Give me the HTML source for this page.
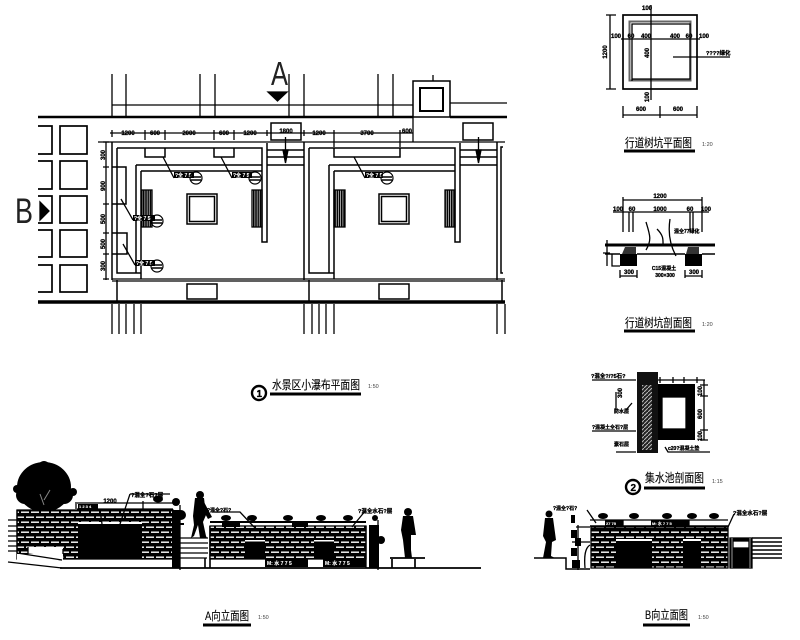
<!DOCTYPE html>
<html><head><meta charset="utf-8"><style>
html,body{margin:0;padding:0;background:#fff;width:800px;height:640px;overflow:hidden}
svg{display:block}
text{font-family:"Liberation Sans","Noto Sans CJK SC",sans-serif;fill:#000;stroke:#000;stroke-width:.3}
.d{font-size:6px;font-weight:bold;text-anchor:middle}
.l{font-size:6px;font-weight:bold}
.w{font-size:5px;font-weight:bold;fill:#fff;stroke:#fff;stroke-width:.1}
.s{font-size:5.5px;fill:#444;stroke:none}
.t{font-size:12px;stroke-width:.12}
</style></head><body>
<svg width="800" height="640" viewBox="0 0 800 640" xmlns="http://www.w3.org/2000/svg" fill="none" stroke="#000" stroke-width="1.3">
<defs>
<pattern id="brick" width="20" height="10" patternUnits="userSpaceOnUse">
<rect width="20" height="10" fill="#000" stroke="none"/>
<rect x="1" y="1.500" width="8" height="1.400" fill="#fff" stroke="none"/><rect x="11" y="1.500" width="8" height="1.400" fill="#fff" stroke="none"/>
<rect x="-4" y="6.500" width="8" height="1.400" fill="#fff" stroke="none"/><rect x="6" y="6.500" width="8" height="1.400" fill="#fff" stroke="none"/><rect x="16" y="6.500" width="8" height="1.400" fill="#fff" stroke="none"/>
</pattern>
<pattern id="vh" width="2.200" height="4" patternUnits="userSpaceOnUse"><rect width="1.600" height="4" fill="#000" stroke="none"/></pattern>
<pattern id="diag" width="4" height="4" patternUnits="userSpaceOnUse"><rect width="4" height="4" fill="#222" stroke="none"/><path d="M0 4L4 0" stroke="#bbb" stroke-width="1"/></pattern>
</defs>

<!-- PLAN -->
<g>
<path d="M112 74V116M126 74V116M200 74V116M215 74V116M289 74V116M304 74V116M378 74V116M393 74V116"/>
<path d="M112 105H413"/>
<path d="M38 117H413M450 117H507" stroke-width="2.600"/>
<path d="M38 302H505" stroke-width="3.600"/>
<path d="M112 304V334M119 304V334M126 304V334M134 304V334M141 304V334M304 304V334M312 304V334M319 304V334M326 304V334M334 304V334M497 304V334M505 304V334"/>
<path d="M98 142H505M112 279H505M112 281H505"/>
<!-- left squares -->
<g stroke-width="1.700">
<rect x="60" y="126" width="27" height="28"/><rect x="60" y="161" width="27" height="28"/><rect x="60" y="196" width="27" height="27"/><rect x="60" y="230" width="27" height="27"/><rect x="60" y="265" width="27" height="27"/>
<path d="M38 126H52V154H38M38 161H52V189H38M38 196H52V223H38M38 230H52V257H38M38 265H52V292H38"/>
</g>
<text x="15" y="223" style="font-size:35px;fill:#222;stroke:none" textLength="18" lengthAdjust="spacingAndGlyphs">B</text>
<path d="M40 202L49 211L40 220Z" fill="#000"/>
<text x="271" y="85" style="font-size:33px;fill:#222;stroke:none" textLength="17" lengthAdjust="spacingAndGlyphs">A</text>
<path d="M268 92H287L277.500 101Z" fill="#000"/>
<!-- dims top -->
<path d="M110 133H413M112 130V137M145 130V140M165 130V140M214 130V140M234 130V140M267 130V136M304 130V136M334 130V147M400 130V147" />
<g>
<text class="d" x="128" y="135">1200</text><text class="d" x="155" y="135">600</text><text class="d" x="189" y="135">2000</text><text class="d" x="224" y="135">600</text><text class="d" x="250" y="135">1200</text><text class="d" x="286" y="133">1800</text><text class="d" x="319" y="135">1200</text><text class="d" x="367" y="135">3700</text><text class="d" x="407" y="133">600</text>
</g>
<!-- dims left -->
<path d="M106 142V280M103 167H109M103 204H109M103 233H109M103 254H109M103 279H109M103 142H109"/>
<g>
<text class="d" transform="translate(105,155) rotate(-90)">300</text>
<text class="d" transform="translate(105,186) rotate(-90)">900</text>
<text class="d" transform="translate(105,219) rotate(-90)">500</text>
<text class="d" transform="translate(105,244) rotate(-90)">500</text>
<text class="d" transform="translate(105,266) rotate(-90)">300</text>
</g>
<!-- rooms -->
<g stroke-width="1.500">
<path d="M112 142V280M117 148V273H141M117 148H262V242H267V143"/>
<path d="M136 165H262M141 171H262M136 165V273M141 171V279"/>
<path d="M145 148V157H165V148M214 148V157H234V148"/>
<path d="M112 167H126V204H112M112 233H127V254H112"/>
<path d="M117 280V303"/>
<path d="M267 150H304M267 157H304M267 165H304"/>
<path d="M304 142V280M309 148V273H334M309 148H455V242H460V143"/>
<path d="M329 165H455M334 171H455M329 165V273M334 171V279"/>
<path d="M334 148V157H400V148"/>
<path d="M309 280V303M502 280V303"/>
<path d="M460 150H497M460 157H497M460 165H497"/>
<path d="M497 142V280M503 147H501V273H503"/>
</g>
<rect x="142" y="190" width="10" height="37" fill="url(#vh)"/>
<rect x="252" y="190" width="10" height="37" fill="url(#vh)"/>
<rect x="334" y="190" width="11" height="37" fill="url(#vh)"/>
<rect x="445" y="190" width="10" height="37" fill="url(#vh)"/>
<g stroke-width="1.500">
<rect x="187" y="194" width="30" height="30"/><rect x="189.500" y="196.500" width="25" height="25"/>
<rect x="379" y="194" width="30" height="30"/><rect x="381.500" y="196.500" width="25" height="25"/>
<rect x="187" y="284" width="30" height="15"/><rect x="379" y="284" width="30" height="15"/>
<rect x="271" y="123" width="30" height="17"/><rect x="463" y="123" width="30" height="17"/>
<rect x="413" y="81" width="37" height="36"/>
<rect x="420" y="88" width="23" height="23" stroke-width="2"/>
</g>
<path d="M433 75V81M450 103H507M413 117V142"/>
<path d="M285.500 137V160M478.500 137V160"/>
<path d="M283 150H288L285.500 163ZM476 150H481L478.500 163Z" fill="#000"/>
<!-- leaders -->
<path d="M163 157L174 178M221 157L232 178M121 199L133 220M123 244L135 265M354 157L365 178"/>
<g stroke="none">
<rect x="174" y="172" width="20" height="6" fill="#000"/><rect x="232" y="172" width="20" height="6" fill="#000"/><rect x="133" y="215" width="22" height="6" fill="#000"/><rect x="135" y="260" width="20" height="6" fill="#000"/><rect x="365" y="172" width="18" height="6" fill="#000"/>
<text class="w" x="175" y="177">?&#20840; 7 5</text><text class="w" x="233" y="177">?&#20840; 7 5</text><text class="w" x="134" y="220">?&#20840; 7 5</text><text class="w" x="136" y="265">?&#20840; 7 5</text><text class="w" x="366" y="177">?&#20840; 7 5</text>
</g>
<g stroke-width="1.200"><circle cx="196" cy="178" r="6"/><circle cx="255" cy="178" r="6"/><circle cx="157" cy="221" r="6"/><circle cx="157" cy="266" r="6"/><circle cx="387" cy="178" r="6"/></g>
<path d="M191 177H201M191 180H201M250 177H260M250 180H260M152 220H162M152 223H162M152 265H162M152 268H162M382 177H392M382 180H392" stroke-width="1.400"/>
<!-- title -->
<text class="t" x="272" y="389" textLength="88" lengthAdjust="spacingAndGlyphs">水景区小瀑布平面图</text>
<path d="M270 394H361" stroke-width="3"/>
<circle cx="259" cy="393" r="7" stroke-width="2.400"/><text x="256.500" y="397" style="font-size:10px;font-weight:bold">1</text>
<text class="s" x="368" y="388">1:50</text>
</g>

<!-- TREE PIT PLAN -->
<g>
<rect x="623" y="15" width="74" height="74" stroke-width="1.700"/>
<rect x="629.500" y="21.500" width="61" height="59" stroke="#666" stroke-width="2"/>
<path d="M632 81V24H690V79H632"/>
<path d="M651 5V100"/>
<path d="M621 39H700M673 57H730"/>
<path d="M610 15V89M606 15H616M606 89H616M623 115H697M623 106V118M660 106V118M697 106V118"/>
<g>
<text class="d" x="616" y="38">100</text><text class="d" x="631" y="38">60</text><text class="d" x="646" y="38">400</text><text class="d" x="675" y="38">400</text><text class="d" x="689" y="38">60</text><text class="d" x="704" y="38">100</text>
<text class="d" x="641" y="111">600</text><text class="d" x="678" y="111">600</text>
<text class="d" transform="translate(607,52) rotate(-90)">1200</text>
<text class="d" x="647" y="10">100</text><text class="d" transform="translate(649,53) rotate(-90)">400</text><text class="d" transform="translate(649,97) rotate(-90)">100</text>
<text class="l" x="706" y="55" style="font-size:5.500px">????绿化</text>
<text class="t" x="625" y="147" textLength="67" lengthAdjust="spacingAndGlyphs">行道树坑平面图</text>
<text class="s" x="702" y="146">1:20</text>
</g>
<path d="M624 151H695" stroke-width="3"/>
</g>

<!-- TREE PIT SECTION -->
<g>
<path d="M623 200H702M623 197V232M629 212V232M633 212V232M690 212V232M693 212V232M702 197V232M613 212H709"/>
<path d="M605 245H715" stroke-width="3"/>
<path d="M605 254H620M637 254H685M702 254H715" stroke-width="1.500"/>
<rect x="620" y="254" width="17" height="12" fill="#000" stroke="none"/>
<rect x="685" y="254" width="17" height="12" fill="#000" stroke="none"/>
<path d="M625 247H636V254H622ZM688 247H699V254H686Z" fill="#333" stroke="none"/>
<path d="M612 254V266H620" />
<path d="M646 222C650 235 652 240 646 250M657 229C664 236 663 240 663 246M670 219C668 232 670 245 676 256"/>
<path d="M620 276H637M620 270V278M637 270V278M685 276H702M685 270V278M702 270V278"/>
<path d="M607 240V266M603 253H610"/>
<g>
<text class="d" x="660" y="198">1200</text><text class="d" x="618" y="211">100</text><text class="d" x="632" y="211">60</text><text class="d" x="660" y="211">1000</text><text class="d" x="690" y="211">60</text><text class="d" x="706" y="211">100</text>
<text class="l" x="674" y="233" style="font-size:5px">混全77绿化</text>
<text class="d" x="629" y="274">300</text><text class="d" x="694" y="274">300</text>
<text class="d" x="664" y="270" style="font-size:5px">C15混凝土</text><text class="d" x="665" y="277" style="font-size:5px">300×300</text>
<text class="t" x="625" y="327" textLength="67" lengthAdjust="spacingAndGlyphs">行道树坑剖面图</text>
<text class="s" x="702" y="326">1:20</text>
</g>
<path d="M624 331H695" stroke-width="3"/>
</g>

<!-- SUMP -->
<g>
<rect x="637" y="372" width="21" height="81" fill="#111" stroke="none"/>
<rect x="642" y="385" width="10" height="65" fill="url(#diag)" stroke="none"/>
<rect x="658" y="384" width="37" height="56" fill="#000" stroke="none"/>
<rect x="662" y="397" width="24" height="32" fill="#fff" stroke="#000"/>
<path d="M658 380H705M704 380V440M700 385H708M700 396H708M700 430H708M700 440H708M660 377V383M673 377V383M684 377V383M697 377V383"/>
<path d="M592 380H636M592 431H636M616 392V410M626 410L632 403M616 452H636M665 447L668 452H710"/>
<g>
<text class="l" x="591" y="378" style="font-size:5.500px">?混全?/?5石?</text>
<text class="l" x="592" y="429" style="font-size:5px">?混凝土全石?层</text>
<text class="l" x="614" y="413" style="font-size:5px">防水层</text>
<text class="l" x="614" y="446" style="font-size:5px">素石层</text>
<text class="l" x="668" y="450" style="font-size:5px">c20?混凝土垫</text>
<text class="d" transform="translate(622,393) rotate(-90)">300</text>
<text class="d" transform="translate(702,391) rotate(-90)">100</text><text class="d" transform="translate(702,414) rotate(-90)">600</text><text class="d" transform="translate(702,436) rotate(-90)">100</text>
<text class="t" x="645" y="482" textLength="59" lengthAdjust="spacingAndGlyphs">集水池剖面图</text>
<text class="s" x="712" y="483">1:15</text>
</g>
<path d="M644 488H705" stroke-width="3"/>
<circle cx="633" cy="487" r="7" stroke-width="2.400"/><text x="630.500" y="491" style="font-size:10px;font-weight:bold">2</text>
</g>

<!-- A ELEVATION -->
<g>
<path d="M60 568H481" stroke-width="1.700"/>
<path d="M8 562L62 568M17 553L62 560"/>
<path d="M8 520H17M8 526H17M8 531H17M8 536H17M8 541H17M8 546H17M8 551H17"/>
<!-- tree -->
<g fill="#000" stroke="none">
<ellipse cx="44" cy="487" rx="27" ry="25"/>
<circle cx="25" cy="495" r="9"/><circle cx="64" cy="495" r="9"/><circle cx="44" cy="467" r="6"/><circle cx="30" cy="475" r="6"/><circle cx="60" cy="476" r="6"/><circle cx="17" cy="489" r="4"/><circle cx="73" cy="492" r="4"/>
</g>
<path d="M44 510V548" stroke-width="1.700"/>
<path d="M44 505L40 494M44 500L50 490" stroke="#888" stroke-width="1"/>
<!-- wall A1 -->
<rect x="17" y="510" width="156" height="49" fill="url(#brick)"/>
<rect x="78" y="523" width="64" height="36" fill="#000" stroke="none"/>
<rect x="78" y="522" width="64" height="2" fill="#fff" stroke="none"/>
<rect x="28" y="547" width="35" height="11" fill="#fff" stroke="none"/>
<path d="M28 547V554L63 558V549"/>
<rect x="17" y="554" width="46" height="6" fill="#fff" stroke="none"/>
<path d="M17 553L62 560M17 510V553"/>
<path d="M77 503H173M77 509H173M76 502V509M143 501V509"/>
<path d="M130 494L120 524M130 494H170M100 510L102 524"/>
<g fill="#000">
<ellipse cx="158" cy="499" rx="5" ry="3.500" stroke="none"/>
<text class="d" x="110" y="503">1200</text>
<text class="l" x="131" y="497" style="font-size:5.500px">?混全?石?层</text>
<rect x="78" y="504" width="20" height="5" stroke="none"/>
<text class="w" x="79" y="508" style="font-size:4px">1 2 3 4</text>
</g>
<!-- plants column -->
<g fill="#000" stroke="none">
<rect x="172" y="510" width="8" height="58"/>
<circle cx="176" cy="502" r="4"/><circle cx="181" cy="515" r="5"/><rect x="174" y="523" width="10" height="2"/>
</g>
<path d="M180 505V570"/>
<!-- steps -->
<path d="M180 538H208M180 543H208M180 548H208M180 553H208M180 558H207"/>
<path d="M205 558V568M210 526V568" stroke-width="1.600"/>
<!-- person -->
<g fill="#000" stroke="none">
<circle cx="200" cy="495" r="4"/>
<path d="M195 498L204 498L206 515L203 522L206 536L207 538H200L198 525L194 536L191 538L194 525L193 516Z"/>
<path d="M204 502L212 517L208 519L203 510Z"/>
</g>
<!-- wall A2 -->
<rect x="210" y="526" width="156" height="33" fill="url(#brick)"/>
<rect x="245" y="541" width="20" height="18" fill="#000" stroke="none"/>
<rect x="314" y="541" width="20" height="18" fill="#000" stroke="none"/>
<rect x="245" y="540" width="20" height="1.500" fill="#fff" stroke="none"/><rect x="314" y="540" width="20" height="1.500" fill="#fff" stroke="none"/>
<path d="M210 522H366" stroke-width="2"/>
<path d="M366 526V568"/>
<path d="M212 512H240L254 527M248 517L256 522M366 510L352 527"/>
<g fill="#000">
<g stroke="none"><ellipse cx="226" cy="518" rx="5" ry="3"/><ellipse cx="252" cy="518" rx="5" ry="3"/><ellipse cx="288" cy="518" rx="5" ry="3"/><ellipse cx="321" cy="518" rx="5" ry="3"/><ellipse cx="348" cy="518" rx="5" ry="3"/>
<rect x="222" y="523" width="18" height="4"/><rect x="292" y="523" width="16" height="4"/>
<rect x="265" y="559" width="43" height="8"/><rect x="323" y="559" width="43" height="8"/></g>
<text class="l" x="207" y="512" style="font-size:5px">?混全?石?</text>
<text class="l" x="358" y="513" style="font-size:5.500px">?混全水石?层</text>
<text class="w" x="267" y="565">M: &#27700; 7 7 5</text><text class="w" x="325" y="565">M: &#27700; 7 7 5</text>
<!-- plant column -->
<g stroke="none"><rect x="369" y="525" width="10" height="43"/><circle cx="375" cy="518" r="3"/><circle cx="381" cy="540" r="4"/>
<!-- person 2 -->
<circle cx="408" cy="512" r="4"/>
<path d="M403 516L413 516L416 535H411L411 550L412 558H405L403 540L401 530Z"/></g>
</g>
<path d="M378 520V570"/>
<path d="M390 558H425M392 559V568M415 559V568" stroke-width="1.700"/>
<g>
<text class="t" x="205" y="620" textLength="44" lengthAdjust="spacingAndGlyphs">A向立面图</text>
<text class="s" x="258" y="619">1:50</text>
</g>
<path d="M203 625H251" stroke-width="3"/>
</g>

<!-- B ELEVATION -->
<g>
<path d="M534 558H566V569H590" stroke-width="1.500"/>
<rect x="591" y="527" width="137" height="41" fill="url(#brick)"/>
<rect x="616" y="541" width="36" height="27" fill="#000" stroke="none"/>
<rect x="683" y="541" width="18" height="27" fill="#000" stroke="none"/>
<rect x="616" y="539" width="36" height="2" fill="#fff" stroke="none"/><rect x="683" y="539" width="18" height="2" fill="#fff" stroke="none"/>
<path d="M590 526H728" stroke-width="1.500"/>
<path d="M590 520H728M623 520V526M689 520V526"/>
<g fill="#000">
<g stroke="none"><ellipse cx="603" cy="516" rx="5" ry="3"/><ellipse cx="634" cy="516" rx="5" ry="3"/><ellipse cx="667" cy="516" rx="5" ry="3"/><ellipse cx="692" cy="516" rx="5" ry="3"/><ellipse cx="714" cy="516" rx="5" ry="3"/>
<rect x="605" y="520" width="18" height="6"/><rect x="651" y="520" width="38" height="6"/>
<rect x="571" y="515" width="4" height="8"/><rect x="571" y="530" width="6" height="8"/><rect x="575" y="538" width="6" height="8"/><rect x="571" y="548" width="6" height="8"/><rect x="572" y="560" width="8" height="8"/>
<circle cx="549" cy="514" r="3.500"/>
<path d="M545 518H553L556 540L552 542L551 556L555 558H543L546 542L543 536Z"/></g>
<text class="l" x="553" y="510" style="font-size:5px">?混全?石?</text>
<text class="l" x="733" y="515" style="font-size:5.500px">?混全水石?层</text>
<text class="w" x="606" y="525" style="font-size:4px">27 75</text>
<text class="w" x="652" y="525" style="font-size:4px">M: &#27700; 7 7 5</text>
</g>
<path d="M578 525V570M576 527H590M572 542H590M590 545C585 548 584 556 585 568M587 510L596 523M728 527L734 514"/>
<rect x="730" y="538" width="22" height="30" fill="#000"/>
<rect x="733" y="541" width="16" height="7" fill="#fff" stroke="#000"/>
<path d="M732 538V568M750 538V568" stroke="#fff" stroke-width="0.600"/>
<path d="M752 538H782M752 542H782M752 546H782M752 550H782M752 554H782M752 558H782" stroke-width="1.500"/>
<g>
<text class="t" x="645" y="619" textLength="43" lengthAdjust="spacingAndGlyphs">B向立面图</text>
<text class="s" x="698" y="619">1:50</text>
</g>
<path d="M643 625H690" stroke-width="3"/>
</g>
</svg>
</body></html>
